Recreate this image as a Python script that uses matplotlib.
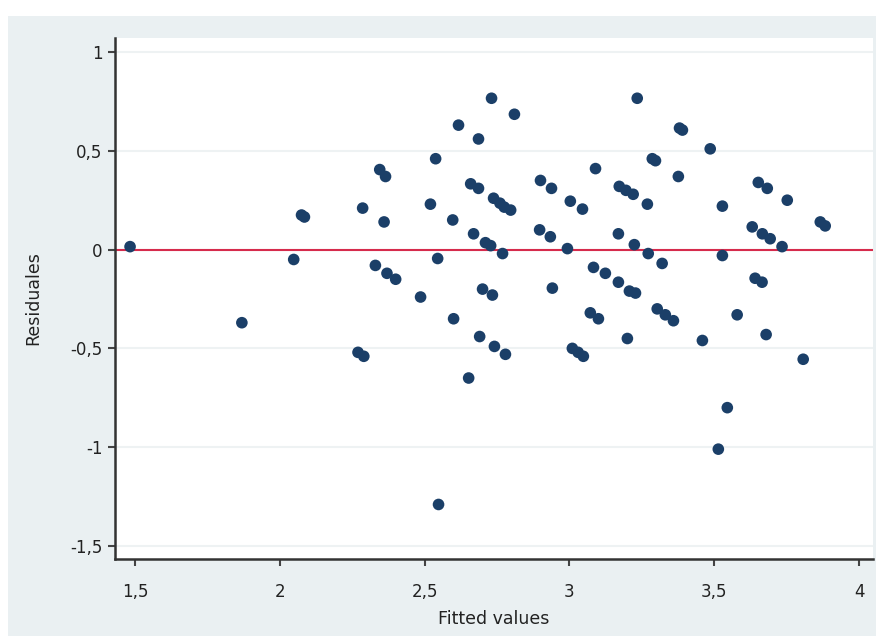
import numpy as np
import matplotlib
matplotlib.use("Agg")
import matplotlib.pyplot as plt
from matplotlib.ticker import FuncFormatter

# fitted values and residuals
fitted = [1.483, 1.869, 2.048, 2.075, 2.085, 2.270, 2.290, 2.286, 2.330, 2.345,
          2.365, 2.360, 2.370, 2.400, 2.486, 2.520, 2.538, 2.545, 2.548, 2.597,
          2.600, 2.617, 2.652, 2.659, 2.686, 2.686, 2.669, 2.690, 2.700, 2.710,
          2.728, 2.731, 2.734, 2.738, 2.741, 2.760, 2.775, 2.769, 2.779, 2.797,
          2.810, 2.897, 2.900, 2.934, 2.938, 2.941, 2.993, 3.003, 3.010, 3.030,
          3.045, 3.048, 3.072, 3.083, 3.090, 3.100, 3.124, 3.169, 3.169, 3.172,
          3.195, 3.200, 3.207, 3.220, 3.224, 3.228, 3.234, 3.269, 3.272, 3.286,
          3.297, 3.303, 3.320, 3.331, 3.359, 3.376, 3.380, 3.390, 3.459, 3.486,
          3.514, 3.528, 3.528, 3.545, 3.579, 3.631, 3.641, 3.652, 3.665, 3.666,
          3.679, 3.683, 3.693, 3.734, 3.752, 3.807, 3.866, 3.883]
residuals = [0.015, -0.37, -0.05, 0.175, 0.165, -0.52, -0.54, 0.21, -0.08, 0.405,
             0.37, 0.14, -0.12, -0.15, -0.24, 0.23, 0.46, -0.045, -1.29, 0.15,
             -0.35, 0.63, -0.65, 0.333, 0.31, 0.56, 0.08, -0.44, -0.20, 0.035,
             0.02, 0.766, -0.23, 0.26, -0.49, 0.235, 0.215, -0.02, -0.53, 0.20,
             0.685, 0.10, 0.35, 0.065, 0.31, -0.195, 0.005, 0.245, -0.50, -0.52,
             0.205, -0.54, -0.32, -0.09, 0.41, -0.35, -0.12, 0.08, -0.165, 0.32,
             0.30, -0.45, -0.21, 0.28, 0.025, -0.22, 0.766, 0.23, -0.02, 0.46,
             0.45, -0.30, -0.07, -0.33, -0.36, 0.37, 0.615, 0.605, -0.46, 0.51,
             -1.01, 0.22, -0.03, -0.80, -0.33, 0.115, -0.145, 0.34, -0.165, 0.08,
             -0.43, 0.31, 0.055, 0.015, 0.25, -0.555, 0.14, 0.12]

x_ticks = [1.5, 2, 2.5, 3, 3.5, 4]
y_ticks = [-1.5, -1, -0.5, 0, 0.5, 1]

bg = "#eaf0f2"
navy = "#1b3f68"

fig = plt.figure(figsize=(8.8, 6.36), dpi=100, facecolor="white")
# light outer panel (Stata graph region)
panel = fig.add_axes([8 / 880, 0, 868 / 880, 1 - 16 / 636], zorder=-5)
panel.set_facecolor(bg)
panel.set_xticks([])
panel.set_yticks([])
for s in panel.spines.values():
    s.set_visible(False)

ax = fig.add_axes([115 / 880, 1 - 559 / 636, 758 / 880, 521 / 636], zorder=1)
ax.set_facecolor("white")

ax.set_xlim(1.431, 4.048)
ax.set_ylim(-1.566, 1.071)

for yt in y_ticks:
    ax.axhline(yt, color="#eef2f3", lw=1.5, zorder=1)

ax.axhline(0, color="#d62b4c", lw=1.5, zorder=2)
ax.scatter(fitted, residuals, s=70, color=navy, edgecolors="none", zorder=3)

fmt = FuncFormatter(lambda v, p: ("%g" % v).replace(".", ","))
ax.set_xticks(x_ticks)
ax.set_yticks(y_ticks)
ax.xaxis.set_major_formatter(fmt)
ax.yaxis.set_major_formatter(fmt)
ax.tick_params(axis="both", direction="out", length=5, width=1.5,
               color="#444444", labelsize=12, labelcolor="#222222")
ax.tick_params(axis="x", pad=12)
ax.tick_params(axis="y", pad=4)

for side in ["top", "right"]:
    ax.spines[side].set_visible(False)
for side in ["left", "bottom"]:
    ax.spines[side].set_color("#333333")
    ax.spines[side].set_linewidth(1.8)

ax.set_xlabel("Fitted values", fontsize=12.5, color="#222222", labelpad=7)
ax.set_ylabel("Residuales", fontsize=12.5, color="#222222", labelpad=20)

fig.savefig("out.png", dpi=100, facecolor=fig.get_facecolor())
